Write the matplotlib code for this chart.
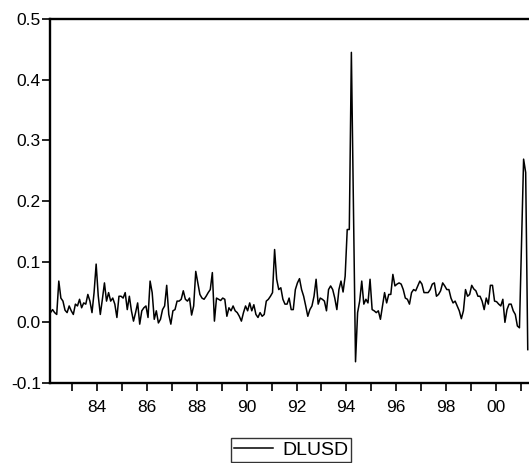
import numpy as np
import matplotlib.pyplot as plt

plt.rcParams['font.family'] = ['Liberation Sans', 'DejaVu Sans']

# monthly observations of DLUSD, starting early 1982
start_year = 1982.12
dlusd = [
    0.016, 0.021, 0.016, 0.013, 0.068, 0.040, 0.035, 0.020, 0.016, 0.027,
    0.019, 0.013, 0.030, 0.027, 0.038, 0.024, 0.032, 0.030, 0.046, 0.035,
    0.016, 0.049, 0.096, 0.044, 0.013, 0.038, 0.065, 0.035, 0.049, 0.035,
    0.040, 0.030, 0.008, 0.043, 0.043, 0.040, 0.049, 0.021, 0.043, 0.019,
    0.002, 0.016, 0.032, -0.003, 0.019, 0.024, 0.027, 0.008, 0.068, 0.049,
    0.005, 0.019, -0.001, 0.005, 0.021, 0.027, 0.061, 0.013, -0.003, 0.019,
    0.021, 0.035, 0.035, 0.038, 0.052, 0.038, 0.035, 0.040, 0.012, 0.027,
    0.084, 0.065, 0.046, 0.040, 0.038, 0.043, 0.049, 0.054, 0.082, 0.002,
    0.040, 0.038, 0.036, 0.040, 0.038, 0.010, 0.024, 0.019, 0.027, 0.019,
    0.016, 0.010, 0.002, 0.016, 0.027, 0.019, 0.032, 0.019, 0.029, 0.013,
    0.008, 0.016, 0.010, 0.013, 0.035, 0.038, 0.043, 0.049, 0.120,
    0.071, 0.054, 0.057, 0.038, 0.030, 0.030, 0.040, 0.021, 0.021, 0.054,
    0.065, 0.072, 0.054, 0.043, 0.027, 0.010, 0.021, 0.027, 0.043, 0.071,
    0.030, 0.040, 0.038, 0.035, 0.019, 0.054, 0.060, 0.054, 0.040, 0.021,
    0.054, 0.068, 0.050, 0.076, 0.153, 0.153, 0.445, 0.190,
    -0.065, 0.016, 0.035, 0.068, 0.030, 0.038, 0.032, 0.071, 0.021, 0.019,
    0.016, 0.019, 0.005, 0.027, 0.049, 0.032, 0.046, 0.046, 0.079, 0.060,
    0.063, 0.065, 0.063, 0.054, 0.040, 0.038, 0.030, 0.049, 0.054, 0.052,
    0.060, 0.068, 0.063, 0.049, 0.049, 0.049, 0.054, 0.063, 0.065, 0.043,
    0.046, 0.052, 0.065, 0.060, 0.054, 0.054, 0.040, 0.032, 0.035, 0.027,
    0.019, 0.006, 0.019, 0.054, 0.043, 0.046, 0.061, 0.055, 0.052, 0.043,
    0.043, 0.035, 0.021, 0.040, 0.030, 0.061, 0.061, 0.035, 0.034, 0.030,
    0.027, 0.038, 0.000, 0.021, 0.030, 0.030, 0.019, 0.013, -0.006, -0.009,
    0.130, 0.269, 0.247, -0.045,
]
tick_years = list(range(1983, 2002))
label_years = list(range(1984, 2002, 2))
y_ticks = [-0.1, 0.0, 0.1, 0.2, 0.3, 0.4, 0.5]

x = start_year + np.arange(len(dlusd)) / 12.0

W, H = 529, 463
fig = plt.figure(figsize=(W / 100, H / 100), dpi=100)
# axes run past the right edge of the figure, as in the reference crop
px_per_year = 24.9
x0, x1 = 1982.10, 2002.2
ax = fig.add_axes([50 / W, (H - 383) / H, (x1 - x0) * px_per_year / W, 364 / H])

ax.plot(x, dlusd, color='black', linewidth=1.1, label='DLUSD')

ax.set_xlim(x0, x1)
ax.set_ylim(-0.1, 0.5)
ax.set_yticks(y_ticks)
ax.set_yticklabels(['%.1f' % v for v in y_ticks])
ax.set_xticks(tick_years)
ax.set_xticklabels(['%02d' % (y % 100) if y in label_years else '' for y in tick_years])

for side in ['left', 'top', 'bottom', 'right']:
    ax.spines[side].set_linewidth(1.7)
ax.tick_params(direction='out', length=6, width=1.2, labelsize=12.5)
ax.tick_params(axis='y', pad=0.5)
ax.tick_params(axis='x', pad=6)

fig.legend(loc='center', bbox_to_anchor=(291 / W, 1 - 450 / H), frameon=True,
           fancybox=False, edgecolor='black', fontsize=14, handlelength=2.0,
           borderpad=0.15, handletextpad=0.5, borderaxespad=0)

fig.savefig('out.png', dpi=100)
